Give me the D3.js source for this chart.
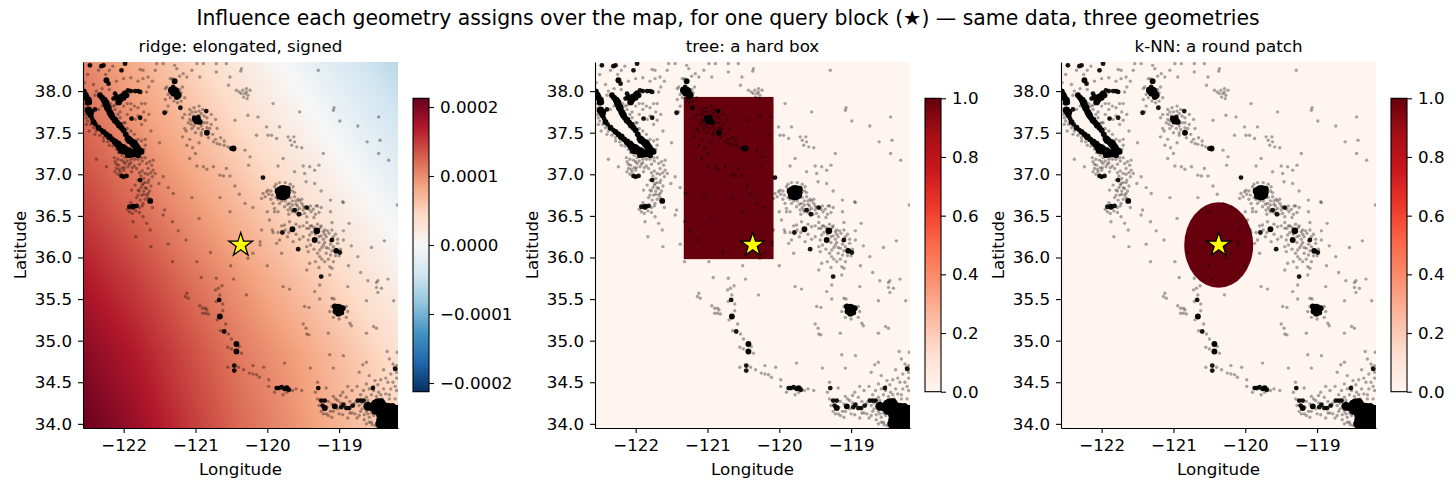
<!DOCTYPE html>
<html>
<head>
<meta charset="utf-8">
<script src="https://cdn.jsdelivr.net/npm/d3@7"></script>
<style>
  html, body { margin: 0; padding: 0; background: #fff; }
  svg { display: block; }
  text { font-family: "DejaVu Sans", sans-serif; fill: #000; }
</style>
</head>
<body>
<svg id="chart" width="1456" height="490"></svg>
<script>
/*******************
 * DATA
 *******************/
const figureTitle = "Influence each geometry assigns over the map, for one query block (★) — same data, three geometries";
const panelTitles = ["ridge: elongated, signed", "tree: a hard box", "k-NN: a round patch"];
const lonTicks = [-122, -121, -120, -119];
const latTicks = [34, 34.5, 35, 35.5, 36, 36.5, 37, 37.5, 38];
const ridgeTicks = [-0.0002, -0.0001, 0, 0.0001, 0.0002];
const unitTicks = [0, 0.2, 0.4, 0.6, 0.8, 1];

const queryBlock = [-120.37, 36.15];
const treeBoxLon = [-121.33, -120.08];
const treeBoxLat = [35.98, 37.93];
const knnRadiusLon = 0.48;
const knnRadiusLat = 0.513;

const ridgeGridLon = [-122.57, -121.84, -121.11, -120.38, -119.65, -118.92, -118.18];
const ridgeGridLat = [38.35, 37.47, 36.59, 35.71, 34.83, 33.95];
const ridgeGrid = [
  [1.05, 0.78, 0.50, 0.22, -0.06, -0.33, -0.60],
  [1.26, 0.99, 0.72, 0.45, 0.18, -0.09, -0.36],
  [1.48, 1.22, 0.96, 0.70, 0.43, 0.16, -0.10],
  [1.72, 1.48, 1.20, 0.94, 0.68, 0.42, 0.14],
  [1.95, 1.70, 1.40, 1.12, 0.90, 0.64, 0.36],
  [2.12, 1.85, 1.52, 1.22, 0.98, 0.72, 0.44]
];

// single blocks [lon, lat]
const singleBlocks = [
  [-121.54,38.33],[-121.45,38.33],[-121.29,38.31],[-121.26,38.27],[-120.98,38.33],[-120.89,38.33],[-120.71,38.33],[-120.57,38.33],
  [-121.05,38.25],[-121.56,38.25],[-121.66,38.17],[-121.73,38.15],[-121.73,38.25],[-121.77,38.26],[-121.17,38.21],[-121.12,38.17],
  [-120.94,38.17],[-120.71,38.23],[-120.54,38.07],[-120.52,38.17],[-120.37,38.24],[-120.36,38.27],[-119.29,38.25],
  [-120.43,38.01],[-120.39,37.99],[-120.34,38.01],[-120.29,38.03],[-120.24,38.01],[-120.31,37.97],[-120.27,37.95],[-120.36,37.97],[-120.29,37.99],
  [-120.33,37.93],[-120.28,37.91],[-119.92,37.85],[-119.55,37.75],[-119.07,37.8],[-119.08,37.77],[-118.99,37.64],[-118.74,37.58],
  [-118.45,37.69],[-118.61,37.39],[-118.43,37.41],[-118.45,37.25],[-118.31,37.17],[-118.19,36.63],[-118.37,36.2],[-118.55,36.12],
  [-118.6,35.72],[-118.46,35.72],[-118.48,35.7],[-118.32,35.74],[-118.48,35.64],[-118.41,35.63],[-118.46,35.58],[-118.24,35.48],
  [-118.48,35.15],[-118.52,35.17],[-118.19,34.86],[-118.33,34.87],[-118.62,34.74],
  // bay fringe
  [-122.5,38.2],[-122.55,38.1],[-122.42,38.08],[-122.1,38.12],[-122.0,38.15],[-121.9,38.16],[-121.8,38.12],[-121.65,38.05],[-121.6,38.12],
  [-122.52,37.6],[-122.48,37.52],[-122.4,37.48],[-122.28,37.4],[-122.2,37.35],[-122.38,37.18],[-122.24,37.09],[-121.7,37.85],[-121.65,37.72],
  [-121.75,37.6],[-121.62,37.52],[-121.5,37.38],[-121.7,37.42],[-121.95,37.72],[-121.98,37.62],[-122.15,37.82],[-122.05,37.75],
  [-122.56,37.9],[-122.55,37.85],[-122.56,37.8],[-122.53,37.72],[-122.52,37.68],[-122.5,37.64],[-122.46,37.6],[-122.42,37.56],
  [-122.38,37.52],[-122.33,37.47],[-122.28,37.44],[-122.22,37.39],[-122.15,37.34],[-122.1,37.3],[-122.07,37.26],[-122.02,37.23],
  [-121.98,37.2],[-121.9,37.18],[-121.85,37.18],[-121.8,37.18],[-121.75,37.2],[-121.7,37.2],[-121.72,37.3],[-121.7,37.35],
  [-121.75,37.4],[-121.8,37.42],[-121.85,37.48],[-121.9,37.52],[-121.95,37.55],[-122.0,37.62],[-122.05,37.68],[-122.08,37.72],
  [-122.12,37.78],[-122.12,37.83],[-122.18,37.85],[-122.3,37.82],[-122.35,37.78],[-122.4,37.95],[-122.38,38.0],[-122.3,38.03],
  [-122.2,38.02],[-122.25,38.2],[-122.35,38.25],[-122.2,38.25],[-122.15,38.3],[-121.9,37.85],[-121.85,37.82],[-121.8,37.8],
  [-121.75,37.85],[-121.72,37.75],[-121.8,37.7],[-121.7,37.65],[-121.9,37.78],[-122.0,37.82],[-121.95,37.85],
  // south of the bay
  [-122.12,37.15],[-122.07,37.11],[-122.1,37.07],[-122.03,37.17],[-121.98,37.13],[-121.94,37.09],[-122.05,37.03],[-122.12,37.03],
  [-121.89,37.03],[-121.82,37.07],[-121.68,37.13],[-121.61,37.11],[-121.66,37.07],[-121.59,37.05],[-121.7,37.01],[-121.73,36.89],
  [-121.68,36.83],[-121.75,36.75],[-121.77,36.69],[-121.73,36.65],[-121.68,36.75],[-121.84,36.87],[-121.89,36.81],[-121.8,36.81],
  [-122.02,37.08],[-121.92,37.12],[-121.85,37.1],[-121.78,37.02],[-121.72,36.95],[-121.65,36.93],[-121.62,36.86],[-121.8,36.93],
  [-122.0,37.05],[-122.08,37.0],[-121.6,36.97],[-121.72,36.8],[-121.76,36.84],[-121.7,36.7],[-121.82,36.72],[-121.88,36.53],
  [-122.13,37.2],[-122.08,37.18],[-122.0,37.15],[-121.95,37.16],[-121.9,37.14],[-122.1,37.12],[-122.06,37.06],[-121.99,37.08],
  [-121.88,37.08],[-121.78,37.12],[-121.74,37.16],[-121.64,37.15],[-121.62,37.02],[-121.66,37.0],[-121.74,37.04],[-121.76,36.98],
  [-121.7,36.9],[-121.66,36.9],[-121.74,36.87],[-121.7,36.84],[-121.64,36.8],[-121.66,36.77],[-121.72,36.76],[-121.78,36.8],
  [-121.8,36.75],[-121.66,36.72],[-121.74,36.62],[-121.6,36.6],[-121.78,36.6],[-121.83,36.56],[-121.78,36.54],[-121.95,36.58],[-121.9,36.66],
  [-121.59,37.17],[-121.45,36.97],[-121.51,36.89],[-121.31,36.77],[-121.45,36.51],[-121.43,36.57],[-121.73,36.49],[-121.68,36.41],
  [-121.63,36.33],[-121.87,36.43],[-121.83,36.25],[-121.62,36.13],[-121.38,36.16],[-121.32,35.95],[-120.98,35.95],[-120.79,36.06],
  // valley floor and coast range
  [-121.05,36.72],[-120.95,36.47],[-120.52,36.55],[-120.66,36.72],[-120.66,36.99],[-120.61,36.98],[-120.98,37.1],[-120.89,37.09],
  [-120.75,37.09],[-120.57,37.07],[-120.52,36.98],[-121.04,37.32],[-121.08,37.19],[-120.75,37.39],[-120.7,37.37],[-120.66,37.36],
  [-120.31,36.65],[-120.1,36.19],[-120.1,36.15],[-120.2,36.05],[-120.0,35.9],[-120.27,35.99],[-120.51,35.9],[-120.47,35.74],
  [-120.92,35.76],[-120.29,35.55],[-119.78,35.65],[-119.69,35.62],[-120.71,35.75],[-121.12,35.57],[-121.14,35.53],[-121.1,35.51],
  [-120.94,35.42],[-120.9,35.39],[-120.84,35.37],[-120.9,35.33],[-120.86,35.33],
  // around stockton and modesto
  [-121.15,37.72],[-121.08,37.78],[-121.02,37.8],[-120.95,37.82],[-120.9,37.78],[-120.78,37.72],[-120.72,37.66],[-120.78,37.6],
  [-120.92,37.5],[-121.05,37.55],[-121.1,37.62],[-121.13,37.52],[-121.0,37.5],[-120.92,37.58],[-120.84,37.62],[-120.7,37.55],
  [-121.08,37.42],[-120.95,37.38],[-120.82,37.44],[-121.18,37.68],[-121.2,37.88],[-121.15,37.92],[-121.42,37.9],[-121.38,37.82],
  [-121.35,38.15],[-121.22,38.18],[-121.18,38.05],[-121.4,38.05],[-121.25,37.86],
  [-121.08,37.72],[-121.05,37.75],[-121.0,37.75],[-120.95,37.76],[-120.92,37.73],[-120.88,37.7],[-120.84,37.68],[-120.88,37.62],
  [-120.84,37.56],[-120.9,37.54],[-120.96,37.55],[-121.02,37.58],[-121.06,37.6],[-121.08,37.66],[-120.8,37.55],[-120.76,37.48],
  [-120.72,37.42],[-120.65,37.44],[-120.6,37.4],[-120.55,37.33],[-121.03,37.7],[-121.05,37.64],[-120.92,37.47],[-121.15,37.55],
  [-121.18,37.45],[-121.12,37.35],[-121.4,37.75],[-121.3,37.88],[-121.22,38.02],[-121.38,37.96],[-121.42,38.03],[-121.2,37.98],[-121.35,37.92],[-121.32,38.15],
  // sierra foothills, north east
  [-120.01,37.57],[-119.99,37.47],[-119.94,37.47],[-119.87,37.43],[-119.83,37.57],[-119.71,37.45],[-119.62,37.39],[-119.59,37.33],
  [-119.52,37.32],[-119.66,37.35],[-119.68,37.41],[-119.63,37.45],[-120.13,37.69],[-120.27,37.71],[-120.45,37.65],[-120.15,37.47],
  [-120.24,37.21],[-119.22,37.25],[-119.28,37.11],[-119.41,37.09],[-119.5,37.1],[-119.34,37.05],[-119.62,37.03],[-119.48,37.01],
  [-119.78,37.19],[-118.94,36.66],[-119.85,37.1],[-119.34,36.89],[-119.25,36.8],[-119.46,36.91],[-119.12,36.69],[-118.95,36.67],
  [-119.12,36.55],[-118.86,36.41],[-118.94,36.32],[-118.94,36.21],[-118.83,36.14],[-118.74,36.01],[-118.87,35.9],[-118.7,35.82],
  [-118.88,35.65],[-118.62,35.48],
  // around fresno
  [-120.01,36.79],[-120.06,36.77],[-120.08,36.71],[-120.03,36.73],[-119.99,36.81],[-119.92,36.65],[-119.64,36.85],[-119.62,36.73],
  [-119.69,36.65],[-119.71,36.57],[-119.76,36.61],[-119.83,36.65],[-119.9,36.59],[-119.66,36.57],[-119.52,36.65],[-119.55,36.59],
  [-119.45,36.49],[-119.97,36.45],[-119.9,36.55],[-120.08,36.33],[-119.93,36.33],[-119.76,36.39],[-119.69,36.43],[-119.55,36.37],
  [-119.45,36.35],[-119.41,36.27],[-119.43,36.21],[-119.64,36.19],[-119.83,36.21],[-119.87,36.17],[-119.8,36.05],[-119.45,36.13],
  [-119.43,36.07],[-119.27,36.09],[-119.22,36.15],[-119.15,36.11],[-119.08,36.13],[-119.18,36.05],[-119.27,36.01],[-119.08,35.95],
  [-119.13,35.89],[-119.45,35.85],[-119.41,35.93],[-119.13,35.79],[-119.27,35.67],[-119.48,35.41],[-119.42,35.4],
  [-119.98,36.76],[-119.95,36.7],[-119.88,36.72],[-119.72,36.72],[-119.65,36.68],[-119.75,36.68],[-119.6,36.64],[-119.68,36.6],
  [-119.58,36.62],[-119.6,36.54],[-119.5,36.57],[-119.48,36.53],[-119.4,36.62],[-119.25,36.6],[-119.3,36.4],[-119.4,36.38],
  [-119.25,36.38],[-119.2,36.33],[-119.18,36.25],[-119.25,36.26],[-119.33,36.28],[-119.12,36.2],[-119.2,36.18],[-119.05,36.02],
  [-119.15,35.98],[-119.24,35.98],[-119.02,36.17],[-119.92,36.3],[-119.85,36.3],[-119.7,36.3],[-119.6,36.28],
  [-119.95,36.8],[-119.93,36.75],[-119.9,36.85],[-119.88,36.88],[-119.83,36.9],[-119.75,36.9],[-119.68,36.88],[-119.65,36.8],
  [-119.62,36.78],[-119.68,36.72],[-119.85,36.7],[-119.8,36.68],[-119.72,36.64],[-119.65,36.63],[-119.6,36.68],[-119.55,36.68],
  [-119.52,36.7],[-119.5,36.62],[-119.65,36.55],[-119.58,36.57],[-119.53,36.52],[-119.48,36.6],[-119.42,36.58],[-119.36,36.58],
  [-119.33,36.52],[-119.35,36.48],[-119.3,36.62],[-119.7,36.52],[-119.85,36.55],[-120.0,36.55],[-119.45,36.42],
  [-119.8,36.38],[-119.75,36.33],[-119.72,36.25],[-119.6,36.4],[-119.5,36.38],[-119.42,36.35],[-119.38,36.38],[-119.35,36.36],
  [-119.26,36.36],[-119.22,36.31],[-119.38,36.3],[-119.28,36.25],[-119.2,36.28],[-119.16,36.32],[-119.22,36.22],[-119.28,36.18],
  [-119.24,36.12],[-119.18,36.12],[-119.12,36.16],[-119.08,36.25],[-119.05,36.28],[-119.1,36.33],[-119.02,36.22],[-118.98,36.1],
  [-119.0,36.02],[-119.05,36.1],[-119.1,36.08],[-119.12,36.03],[-119.35,36.1],[-119.4,36.15],[-119.55,36.22],[-119.5,36.25],
  [-119.3,36.05],[-119.33,35.95],[-119.2,35.95],[-119.1,35.87],
  // around bakersfield
  [-119.1,35.41],[-119.13,35.35],[-119.07,35.5],[-118.9,35.41],[-118.88,35.35],[-118.9,35.28],[-119.0,35.26],[-119.08,35.28],[-118.85,35.21],[-118.83,35.18],[-119.1,35.51],
  [-119.45,35.08],[-119.5,35.2],[-119.42,35.07],[-119.15,35.09],[-119.13,34.83],[-118.62,35.09],[-119.08,34.67],[-118.67,34.71],
  // coast south
  [-120.72,35.61],[-120.63,35.66],[-120.66,35.55],[-120.71,35.47],[-120.62,35.44],[-120.62,35.36],[-120.7,35.25],[-120.58,35.2],
  [-120.65,35.12],[-120.54,35.08],[-120.5,35.02],[-120.55,34.92],[-120.5,34.9],[-120.36,34.85],[-120.39,34.93],[-120.55,34.68],
  [-120.4,34.68],[-120.33,34.65],[-120.2,34.7],[-120.05,34.68],[-119.76,34.73],[-120.25,34.61],[-120.2,34.6],[-120.15,34.59],
  [-120.11,34.56],[-119.98,34.53],[-119.98,34.45],[-119.9,34.38],[-119.78,34.35],[-119.73,34.38],[-119.65,34.4],[-119.6,34.42],
  // ventura to los angeles
  [-119.4,34.67],[-119.3,34.5],[-119.33,34.38],[-119.15,34.1],[-119.1,34.08],[-119.0,34.12],[-119.08,34.33],[-119.18,34.43],
  [-118.88,34.45],[-118.75,34.45],[-118.62,34.48],[-118.5,34.52],[-118.42,34.53],[-118.35,34.55],[-118.28,34.6],[-118.2,34.62],
  [-118.58,34.58],[-118.72,34.62],[-118.25,34.72],[-118.3,34.78],[-118.2,34.7],[-118.38,34.65],
  [-118.82,34.4],[-118.9,34.32],[-118.95,34.38],[-118.98,34.34],[-119.05,34.3],[-118.7,34.35],[-118.62,34.32],[-118.55,34.35],
  [-118.45,34.38],[-118.38,34.42],[-118.3,34.35],[-118.88,34.07],[-118.75,34.07],[-118.65,34.11],[-118.58,34.08],[-118.55,34.02],
  [-118.95,34.11],[-118.82,34.13],[-118.7,34.15],[-118.65,34.05],[-118.5,33.98],
  [-118.23,34.68],[-118.2,34.66],[-118.25,34.5],[-118.22,34.45],[-118.32,34.5],
  [-119.3,34.3],[-119.28,34.22],[-119.25,34.15],[-119.22,34.12],[-119.18,34.12],[-119.12,34.15],[-119.08,34.15],[-119.02,34.18],
  [-119.02,34.28],[-118.98,34.25],[-118.85,34.27],[-118.85,34.13],[-118.78,34.12],[-118.72,34.1],[-118.68,34.18],[-118.72,34.22],
  [-118.68,34.25],[-118.65,34.28],[-118.6,34.28],[-118.62,34.15],[-118.6,34.12],[-118.55,34.13],[-118.52,34.1],[-118.58,34.02],
  [-118.62,34.0],[-118.54,33.99],[-118.52,34.4],[-118.48,34.33],[-118.42,34.35],[-118.35,34.36],[-118.52,34.45],[-118.46,34.47],
  [-118.58,34.42],[-118.66,34.4],[-118.4,34.3],[-118.3,34.3],[-118.22,34.3],[-118.2,34.4],[-118.28,34.42],[-118.2,34.55]
];

// tight groups of blocks [lon, lat, how many share the spot]
const stackedBlocks = [
  // east bay strand
  [-122.33,37.95,3],[-122.3,37.92,3],[-122.27,37.89,4],[-122.25,37.86,5],[-122.24,37.83,4],[-122.22,37.8,5],[-122.21,37.77,3],
  [-122.19,37.74,4],[-122.17,37.71,4],[-122.15,37.68,3],[-122.12,37.65,4],[-122.09,37.62,3],[-122.06,37.59,4],[-122.03,37.56,3],
  [-122.0,37.53,3],[-121.97,37.48,3],[-121.94,37.43,4],[-121.92,37.41,5],[-121.89,37.39,4],[-121.86,37.37,6],[-121.84,37.35,5],
  [-121.82,37.32,6],[-121.8,37.29,5],[-121.77,37.28,4],[-121.75,37.27,3],
  // peninsula strand
  [-122.49,37.77,5],[-122.47,37.74,4],[-122.46,37.71,3],[-122.44,37.67,2],[-122.42,37.63,3],[-122.39,37.6,2],[-122.35,37.56,3],
  [-122.31,37.53,2],[-122.28,37.51,3],[-122.24,37.48,3],[-122.2,37.45,4],[-122.16,37.42,3],[-122.12,37.39,4],[-122.08,37.36,5],
  [-122.05,37.33,6],[-122.01,37.31,7],[-121.98,37.29,7],[-121.93,37.27,7],[-121.89,37.25,6],[-121.85,37.25,5],[-121.8,37.23,3],
  [-121.94,37.23,3],[-122.03,37.29,5],
  // marin, north bay
  [-122.54,37.95,5],[-122.49,37.89,4],[-122.56,37.99,4],[-122.45,37.75,3],[-122.4,37.78,2],[-122.5,37.86,3],
  [-122.52,37.92,4],[-122.47,37.86,2],
  [-122.12,37.97,2],[-122.03,37.93,4],[-121.96,37.95,3],[-122.07,37.87,4],[-122.14,37.91,2],[-122.0,37.97,2],
  [-122.1,37.93,3],[-122.05,37.9,4],[-122.0,37.92,3],[-121.98,37.98,2],
  [-121.94,38.01,2],[-121.9,38.0,2],[-121.84,38.0,2],[-121.8,38.0,2],[-121.77,37.99,2],[-121.68,37.99,1],
  [-122.24,38.13,3],[-122.21,38.09,2],[-122.28,38.31,2],[-122.31,38.3,2],[-122.03,38.25,2],[-121.98,38.33,2],[-122.47,38.31,2],
  [-121.89,37.67,2],[-121.77,37.68,2],[-121.84,37.66,1],
  // santa cruz, monterey
  [-122.03,36.98,2],[-121.96,36.98,2],[-122.0,36.97,2],[-121.77,36.93,2],[-121.56,37.01,1],[-121.63,36.68,3],[-121.92,36.61,2],
  [-121.87,36.61,3],[-121.82,36.62,2],[-121.92,36.55,1],[-121.38,36.84,1],
  // sacramento valley edge
  [-121.29,38.12,3],[-121.33,38.01,5],[-121.29,37.99,9],[-121.24,37.95,4],[-121.31,38.05,2],[-121.26,37.93,3],[-121.21,37.8,2],[-121.43,37.74,2],
  [-120.98,37.65,6],[-120.94,37.63,3],[-121.01,37.67,3],[-120.96,37.69,2],[-120.85,37.76,2],[-120.84,37.5,3],
  [-120.47,37.31,3],[-120.5,37.31,2],[-120.6,37.35,1],[-120.31,37.29,1],[-120.26,37.11,1],[-120.84,37.06,1],[-121.0,37.25,1],
  [-120.06,36.96,2],[-120.39,36.76,1],[-120.45,36.86,1],[-120.2,36.6,1],[-121.32,36.43,1],[-121.24,36.32,1],[-121.13,36.21,1],
  // fresno and the valley towns
  [-119.78,36.78,20],[-119.85,36.8,4],[-119.72,36.82,4],[-119.78,36.73,4],[-119.83,36.74,4],[-119.73,36.75,4],
  [-119.57,36.7,1],[-119.62,36.57,2],[-119.56,36.52,2],[-119.45,36.6,2],[-119.39,36.55,1],[-119.28,36.54,1],[-119.32,36.62,1],
  [-119.79,36.3,2],[-119.65,36.34,3],[-119.31,36.32,4],[-119.34,36.21,3],[-119.14,36.29,1],[-119.1,36.21,2],[-119.1,36.42,1],
  [-119.57,36.1,2],[-119.04,36.08,3],[-118.99,36.06,2],[-119.28,35.88,1],[-119.25,35.77,2],[-119.34,35.59,1],[-119.27,35.5,1],
  // bakersfield
  [-119.01,35.38,10],[-119.06,35.41,3],[-118.95,35.39,3],[-119.01,35.33,4],[-118.97,35.34,3],[-119.05,35.35,3],[-119.46,35.15,1],[-118.94,34.82,1],
  // central coast
  [-120.68,35.63,1],[-120.67,35.49,2],[-120.66,35.29,3],[-120.6,35.11,2],[-120.43,34.96,3],[-120.43,34.87,3],[-120.46,34.7,2],
  [-120.46,34.64,2],[-120.82,35.32,1],[-120.86,35.39,1],
  // santa barbara
  [-119.87,34.43,2],[-119.84,34.43,2],[-119.8,34.44,2],[-119.73,34.43,3],[-119.7,34.41,2],[-119.52,34.4,1],[-119.76,34.42,2],
  // ventura, los angeles
  [-119.29,34.43,2],[-119.25,34.28,2],[-119.2,34.19,3],[-119.06,34.21,3],[-118.9,34.19,2],[-118.81,34.22,2],[-118.74,34.28,2],
  [-118.53,34.43,2],[-118.94,34.23,2],[-119.15,34.27,1],[-119.2,34.28,2],
  [-118.97,34.2,2],[-118.86,34.19,2],[-118.78,34.25,1],[-118.7,34.28,2],[-118.66,34.28,2],[-119.23,34.22,2],[-119.17,34.2,1],[-119.1,34.24,1],
  [-118.22,34.66,2],
  [-118.6,34.21,7],[-118.46,34.23,14],[-118.32,34.19,10],[-118.2,34.17,8],[-118.41,34.11,10],[-118.3,34.07,12],[-118.2,34.05,10],
  [-118.43,34.0,8],[-118.32,33.98,14],[-118.2,33.98,12],[-118.53,34.19,5],
  [-118.55,34.2,5],[-118.5,34.24,6],[-118.42,34.25,8],[-118.38,34.2,10],[-118.5,34.15,4],[-118.45,34.16,8],[-118.35,34.12,10],
  [-118.25,34.12,10],[-118.37,34.03,10],[-118.27,34.02,12],[-118.26,34.2,6],[-118.43,34.05,5]
];

/*******************
 * COLOURS AND LAYOUT
 *******************/
const rdbuColors = ["#053061", "#2166ac", "#4393c3", "#92c5de", "#d1e5f0", "#f7f7f7", "#fddbc7", "#f4a582", "#d6604d", "#b2182b", "#67001f"];
const redsColors = ["#fff5f0", "#fee0d2", "#fcbba1", "#fc9272", "#fb6a4a", "#ef3b2c", "#cb181d", "#a50f15", "#67000d"];

const ridgeMax = 0.0002126;
const ridgeColor = d3.scaleLinear().domain(d3.range(11).map(i => -ridgeMax + i * ridgeMax / 5)).range(rdbuColors);
const redsColor = d3.scaleLinear().domain(d3.range(9).map(i => i / 8)).range(redsColors);

const plotWidth = 315, plotTop = 62, plotBottom = 428;
const panelLefts = [83, 595, 1061];
const barTop = 98.3, barBottom = 391.7, barWidth = 16, barGap = 15;
const labelSize = "16.7px";

const svg = d3.select("#chart");

svg.append("text")
  .attr("x", 728).attr("y", 25).attr("text-anchor", "middle")
  .attr("font-size", "20.4px")
  .text(figureTitle);

const minusFormat = f => v => f(v).replace("-", "\u2212");

// alpha of a spot where n blocks pile up
const blockAlpha = n => 1 - Math.pow(0.66, n === 1 ? 1 : n * 3);
const blockRadius = d3.scaleSqrt().domain([0, 1]).range([0, 1.7]);

/*******************
 * DRAW ONE PANEL
 *******************/
function drawPanel(i) {
  const left = panelLefts[i];
  const x = d3.scaleLinear().domain([-122.566, -118.18]).range([left, left + plotWidth]);
  const y = d3.scaleLinear().domain([33.95, 38.35]).range([plotBottom, plotTop]);
  const g = svg.append("g");

  g.append("clipPath").attr("id", `clip${i}`).append("rect")
    .attr("x", left).attr("y", plotTop).attr("width", plotWidth).attr("height", plotBottom - plotTop);
  const plot = g.append("g").attr("clip-path", `url(#clip${i})`);

  if (i === 0) {
    // ridge field: grid cells blended to a raster, like imshow
    const colAt = d3.scaleLinear().domain(ridgeGridLon).range(d3.range(ridgeGridLon.length)).clamp(true);
    const rowAt = d3.scaleLinear().domain(ridgeGridLat).range(d3.range(ridgeGridLat.length)).clamp(true);
    const h = plotBottom - plotTop;
    const canvas = document.createElement("canvas");
    canvas.width = plotWidth; canvas.height = h;
    const ctx = canvas.getContext("2d");
    for (let py = 0; py < h; py++) {
      const r = rowAt(y.invert(plotTop + py + 0.5));
      const r0 = Math.min(Math.floor(r), ridgeGridLat.length - 2), fr = r - r0;
      for (let px = 0; px < plotWidth; px++) {
        const c = colAt(x.invert(left + px + 0.5));
        const c0 = Math.min(Math.floor(c), ridgeGridLon.length - 2), fc = c - c0;
        const v = (ridgeGrid[r0][c0] * (1 - fc) + ridgeGrid[r0][c0 + 1] * fc) * (1 - fr)
                + (ridgeGrid[r0 + 1][c0] * (1 - fc) + ridgeGrid[r0 + 1][c0 + 1] * fc) * fr;
        ctx.fillStyle = ridgeColor(v * 1e-4);
        ctx.fillRect(px, py, 1, 1);
      }
    }
    plot.append("image").attr("x", left).attr("y", plotTop)
      .attr("width", plotWidth).attr("height", h)
      .attr("href", canvas.toDataURL());
  } else {
    plot.append("rect").attr("x", left).attr("y", plotTop)
      .attr("width", plotWidth).attr("height", plotBottom - plotTop)
      .attr("fill", redsColor(0));
    if (i === 1) {
      plot.append("rect")
        .attr("x", x(treeBoxLon[0])).attr("y", y(treeBoxLat[1]))
        .attr("width", x(treeBoxLon[1]) - x(treeBoxLon[0]))
        .attr("height", y(treeBoxLat[0]) - y(treeBoxLat[1]))
        .attr("fill", redsColor(1));
    } else {
      plot.append("ellipse")
        .attr("cx", x(queryBlock[0])).attr("cy", y(queryBlock[1]))
        .attr("rx", x(queryBlock[0] + knnRadiusLon) - x(queryBlock[0]))
        .attr("ry", y(queryBlock[1] - knnRadiusLat) - y(queryBlock[1]))
        .attr("fill", redsColor(1));
    }
  }

  // blocks
  plot.selectAll(".single").data(singleBlocks).enter().append("circle")
    .attr("class", "single")
    .attr("cx", d => x(d[0])).attr("cy", d => y(d[1]))
    .attr("r", blockRadius(1))
    .attr("fill", "#000").attr("fill-opacity", blockAlpha(1));
  plot.selectAll(".stacked").data(stackedBlocks).enter().append("circle")
    .attr("class", "stacked")
    .attr("cx", d => x(d[0])).attr("cy", d => y(d[1]))
    .attr("r", d => blockRadius(d[2]))
    .attr("fill", "#000").attr("fill-opacity", d => blockAlpha(d[2]));

  // query star
  g.append("path")
    .attr("d", d3.symbol(d3.symbolStar, 175))
    .attr("transform", `translate(${x(queryBlock[0])},${y(queryBlock[1])})`)
    .attr("fill", "#ffff00").attr("stroke", "#000").attr("stroke-width", 1.3);

  // axes, left and bottom only
  const xAxis = g.append("g").attr("transform", `translate(0,${plotBottom})`)
    .call(d3.axisBottom(x).tickValues(lonTicks).tickFormat(minusFormat(d3.format("d"))).tickSize(5).tickPadding(6).tickSizeOuter(0));
  const yAxis = g.append("g").attr("transform", `translate(${left},0)`)
    .call(d3.axisLeft(y).tickValues(latTicks).tickFormat(d3.format(".1f")).tickSize(5).tickPadding(6).tickSizeOuter(0));
  [xAxis, yAxis].forEach(a => {
    a.attr("font-family", null).attr("font-size", null);
    a.selectAll("text").attr("font-size", labelSize);
    a.selectAll("line,path").attr("stroke", "#000").attr("stroke-width", 1.1);
  });

  g.append("text").attr("x", left + plotWidth / 2).attr("y", 52).attr("text-anchor", "middle")
    .attr("font-size", labelSize).text(panelTitles[i]);
  g.append("text").attr("x", left + plotWidth / 2).attr("y", 475).attr("text-anchor", "middle")
    .attr("font-size", labelSize).text("Longitude");
  g.append("text")
    .attr("transform", `translate(${left - 57},${(plotTop + plotBottom) / 2}) rotate(-90)`)
    .attr("text-anchor", "middle").attr("font-size", labelSize).text("Latitude");

  // colourbar
  const barLeft = left + plotWidth + barGap;
  const isRidge = i === 0;
  const barScale = d3.scaleLinear().domain(isRidge ? [-ridgeMax, ridgeMax] : [0, 1]).range([barBottom, barTop]);
  const barColor = isRidge ? ridgeColor : redsColor;
  const barLevels = d3.range(Math.floor(barTop), Math.ceil(barBottom));
  g.selectAll(".level").data(barLevels).enter().append("rect")
    .attr("class", "level")
    .attr("x", barLeft).attr("y", d => d).attr("width", barWidth).attr("height", 1)
    .attr("shape-rendering", "crispEdges")
    .attr("fill", d => barColor(barScale.invert(d + 0.5)));
  g.append("rect").attr("x", barLeft).attr("y", barTop).attr("width", barWidth).attr("height", barBottom - barTop)
    .attr("fill", "none").attr("stroke", "#000").attr("stroke-width", 1.1);
  const barAxis = g.append("g").attr("transform", `translate(${barLeft + barWidth},0)`)
    .call(d3.axisRight(barScale).tickValues(isRidge ? ridgeTicks : unitTicks)
      .tickFormat(minusFormat(d3.format(isRidge ? ".4f" : ".1f"))).tickSize(5).tickPadding(6).tickSizeOuter(0));
  barAxis.attr("font-family", null).attr("font-size", null);
  barAxis.select(".domain").remove();
  barAxis.selectAll("text").attr("font-size", labelSize);
  barAxis.selectAll("line").attr("stroke", "#000").attr("stroke-width", 1.1);
}

panelLefts.forEach((_, i) => drawPanel(i));
</script>
</body>
</html>
